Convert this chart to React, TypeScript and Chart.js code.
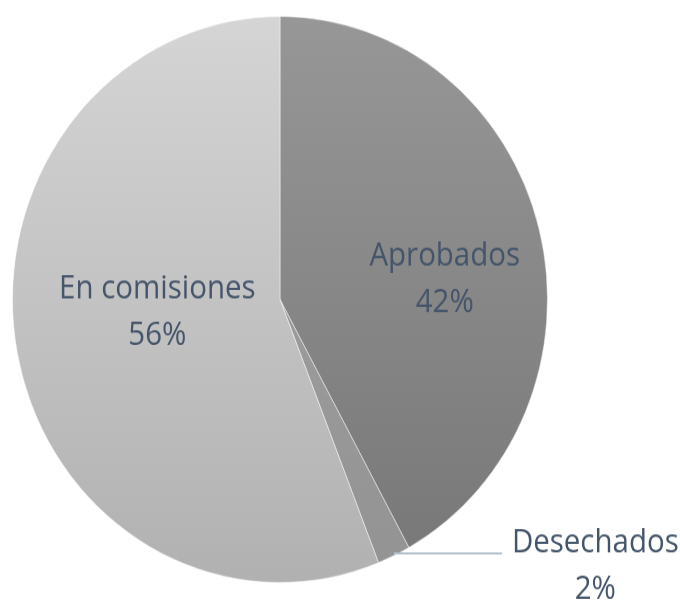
import React, { useEffect, useRef } from "react";
import { Chart, registerables } from "chart.js";

Chart.register(...registerables);

const categories = ["Aprobados", "Desechados", "En comisiones"];
const values = [42, 2, 56];
const topColors = ["#979797", "#a4a4a4", "#d5d5d5"];
const bottomColors = ["#777777", "#939393", "#b1b1b1"];

const SCALE_Y = 1.058;
const CANVAS_W = 680;
const CANVAS_H = 568;

const labelPlugin = {
  id: "sliceLabels",
  afterDatasetsDraw(chart: any, _args: any, opts: any) {
    const ctx = chart.ctx as CanvasRenderingContext2D;
    const meta = chart.getDatasetMeta(0);
    const data = chart.data.datasets[0].data as number[];
    const total = data.reduce((a, b) => a + b, 0);
    const fontSize = opts.fontSize;
    const lineGap = opts.lineGap;
    const cap = opts.capHeight;
    ctx.save();
    ctx.fillStyle = opts.color;
    ctx.font = `${fontSize}px ${opts.family}`;
    ctx.textBaseline = "alphabetic";
    const drawText = (t: string, x: number, y: number, align: "center" | "left") => {
      ctx.save();
      ctx.translate(x, y);
      ctx.scale(opts.squeeze, 1);
      ctx.textAlign = align;
      ctx.fillText(t, 0, 0);
      ctx.restore();
    };
    meta.data.forEach((arc: any, i: number) => {
      const p = arc.getProps(["x", "y", "startAngle", "endAngle", "outerRadius"], true);
      const mid = (p.startAngle + p.endAngle) / 2;
      const pct = Math.round((data[i] / total) * 100) + "%";
      const name = chart.data.labels[i] as string;
      const inside = opts.inside[i];
      if (inside) {
        const a = mid + (inside.angOff * Math.PI) / 180;
        const r = p.outerRadius * inside.rf;
        const bx = p.x + Math.cos(a) * r;
        const by = p.y + Math.sin(a) * r;
        const b1 = by + (cap - lineGap) / 2;
        drawText(name, bx, b1, "center");
        drawText(pct, bx, b1 + lineGap, "center");
      } else {
        const o = opts.outside[i];
        const sx = p.x + Math.cos(mid) * p.outerRadius;
        const sy = p.y + Math.sin(mid) * p.outerRadius - 2;
        const ex = sx + o.leader;
        ctx.save();
        ctx.strokeStyle = opts.leaderColor;
        ctx.lineWidth = 2;
        ctx.beginPath();
        ctx.moveTo(sx, sy);
        ctx.lineTo(ex, sy);
        ctx.stroke();
        ctx.restore();
        const tx = ex + o.gap;
        ctx.save();
        ctx.font = `${fontSize}px ${opts.family}`;
        const w1 = ctx.measureText(name).width * opts.squeeze;
        ctx.restore();
        const cxText = tx + w1 / 2;
        drawText(name, cxText, sy - 1, "center");
        drawText(pct, cxText, sy - 1 + lineGap, "center");
      }
    });
    ctx.restore();
  },
};

export default function App() {
  const ref = useRef<HTMLCanvasElement | null>(null);
  useEffect(() => {
    const canvas = ref.current!;
    const grad = (i: number) => (c: any) => {
      const area = c.chart.chartArea;
      if (!area) return topColors[i];
      const g = c.chart.ctx.createLinearGradient(0, area.top, 0, area.bottom);
      g.addColorStop(0, topColors[i]);
      g.addColorStop(1, bottomColors[i]);
      return g;
    };
    const chart = new Chart(canvas, {
      type: "pie",
      data: {
        labels: categories,
        datasets: [
          {
            data: values,
            backgroundColor: (c: any) => grad(c.dataIndex)(c),
            borderColor: "rgba(255,255,255,0.45)",
            borderWidth: 1,
          },
        ],
      },
      options: {
        responsive: false,
        animation: false,
        devicePixelRatio: 1,
        layout: { padding: { left: 12, right: 132, top: 15, bottom: 17 } },
        plugins: {
          legend: { display: false },
          tooltip: { enabled: false },
          sliceLabels: {
            fontSize: 31,
            capHeight: 22.6,
            lineGap: 44.3,
            squeeze: 0.95,
            family: '"Open Sans", "Noto Sans", sans-serif',
            color: "#44546A",
            leaderColor: "#B4C0CE",
            inside: {
              0: { rf: 0.621, angOff: 7.0 },
              2: { rf: 0.46, angOff: 6.4 },
            },
            outside: {
              1: { leader: 108, gap: 10 },
            },
          },
        } as any,
      },
      plugins: [labelPlugin],
    });
    return () => chart.destroy();
  }, []);
  return (
    <div style={{ position: "absolute", left: 0, top: 0, width: 680, height: 601, background: "#fff", overflow: "hidden" }}>
      <canvas
        ref={ref}
        width={CANVAS_W}
        height={CANVAS_H}
        style={{ display: "block", width: "680px", height: `${Math.round(CANVAS_H * SCALE_Y)}px` }}
      />
    </div>
  );
}
